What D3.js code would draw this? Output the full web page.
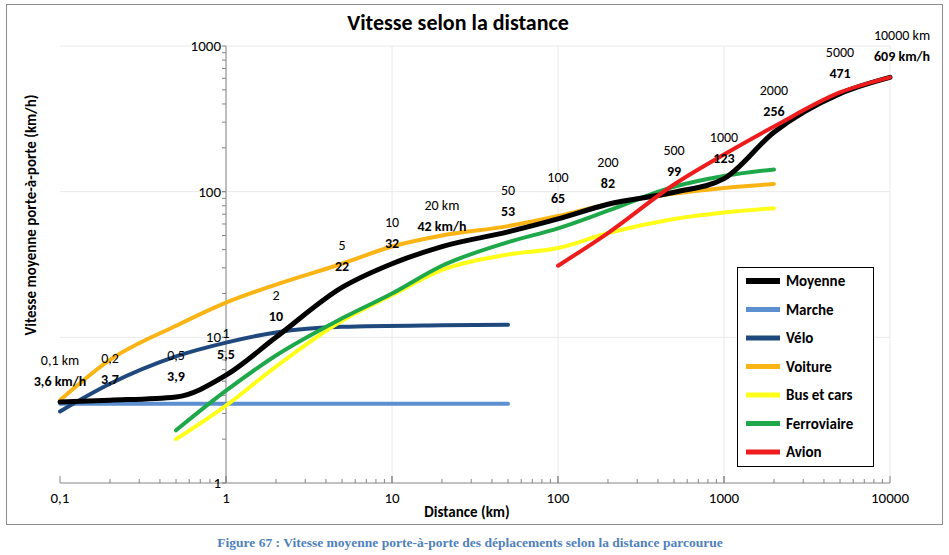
<!DOCTYPE html>
<html><head><meta charset="utf-8">
<script src="https://cdn.jsdelivr.net/npm/d3@7"></script>
<style>body{margin:0;background:#fff;font-family:Calibri,Carlito,"Open Sans",sans-serif}</style>
</head><body>
<script>
// Data
var moyDist = [0.1,0.2,0.5,1,2,5,10,20,50,100,200,500,1000,2000,5000,10000];
var moySpeed = [3.6,3.7,3.9,5.5,10,22,32,42,53,65,82,99,123,256,471,609];
var marche = [[0.1,3.5],[0.5,3.5],[5,3.5],[50,3.5]];
var velo = [[0.1,3.1],[0.2,4.8],[0.5,7.4],[1,9.2],[2,10.8],[5,11.8],[20,12.1],[50,12.2]];
var voiture = [[0.1,3.7],[0.2,7],[0.5,12],[1,17.3],[2,23],[5,32],[10,42],[20,50],[50,58],[100,68],[200,82],[500,97],[1000,106],[2000,113]];
var bus = [[0.5,2],[1,3.4],[2,6.3],[5,13],[10,19.5],[20,29],[50,37],[100,41],[200,52],[500,65],[1000,72],[2000,77]];
var ferro = [[0.5,2.3],[1,4.3],[2,7.5],[5,13.5],[10,20],[20,31],[50,45],[100,56],[200,74],[500,108],[1000,128],[2000,142]];
var avion = [[100,31],[200,52],[500,112],[1000,180],[2000,280],[5000,480],[10000,609]];
var distLabels = ["0,1 km","0,2","0,5","1","2","5","10","20 km","50","100","200","500","1000","2000","5000","10000 km"];
var speedLabels = ["3,6 km/h","3,7","3,9","5,5","10","22","32","42 km/h","53","65","82","99","123","256","471","609 km/h"];
var xTicks = [0.1,1,10,100,1000,10000];
var yTicks = [1,10,100,1000];

var series = [
  {name:"Moyenne", color:"#000000", w:5, pts:moyDist.map(function(d,i){return [d,moySpeed[i]];})},
  {name:"Marche", color:"#5b8fd0", w:4, pts:marche},
  {name:"Vélo", color:"#1f497d", w:4, pts:velo},
  {name:"Voiture", color:"#fbb416", w:4, pts:voiture},
  {name:"Bus et cars", color:"#ffff1a", w:4, pts:bus},
  {name:"Ferroviaire", color:"#1ea84a", w:4, pts:ferro},
  {name:"Avion", color:"#ee1c1c", w:4, pts:avion}
];
var drawOrder = [1,2,4,5,3,0,6];

var W = 949, H = 555;
var svg = d3.select("body").append("svg").attr("width", W).attr("height", H);
svg.append("rect").attr("x",6.5).attr("y",4.5).attr("width",936).attr("height",520)
  .attr("fill","#fff").attr("stroke","#8c8c8c");

var x = d3.scaleLog().domain([0.1,10000]).range([60,890]);
var y = d3.scaleLog().domain([1,1000]).range([483,46]);

// grid
svg.append("g").selectAll("line").data(xTicks.slice(1)).enter().append("line")
  .attr("x1",x).attr("x2",x).attr("y1",46).attr("y2",483).attr("stroke","#eaeaea");
svg.append("g").selectAll("line").data(yTicks.slice(1)).enter().append("line")
  .attr("x1",60).attr("x2",890).attr("y1",y).attr("y2",y).attr("stroke","#eaeaea");

// axes
var xMinor = [];
for (var e = 0.1; e < 10000; e *= 10) for (var k = 1; k <= 10; k++) xMinor.push(e*k);
svg.append("line").attr("x1",60).attr("x2",890).attr("y1",483).attr("y2",483).attr("stroke","#868686");
svg.append("g").selectAll("line").data(xMinor).enter().append("line")
  .attr("x1",x).attr("x2",x).attr("y1",483).attr("y2",function(d){return xTicks.indexOf(+d.toPrecision(3))>=0?476:479;})
  .attr("stroke","#868686");
svg.append("g").selectAll("text").data(xTicks).enter().append("text")
  .attr("x",x).attr("y",503).attr("text-anchor","middle").attr("font-size",15)
  .text(function(d){return String(d).replace(".",",");});

var yMinor = [];
for (var e2 = 1; e2 < 1000; e2 *= 10) for (var k2 = 1; k2 <= 10; k2++) yMinor.push(e2*k2);
svg.append("line").attr("x1",x(1)).attr("x2",x(1)).attr("y1",46).attr("y2",483).attr("stroke","#868686");
svg.append("g").selectAll("line").data(yMinor).enter().append("line")
  .attr("x1",x(1)-4).attr("x2",x(1)).attr("y1",y).attr("y2",y).attr("stroke","#868686");
svg.append("g").selectAll("text").data(yTicks).enter().append("text")
  .attr("x",x(1)-5).attr("y",function(d){return y(d)+5;}).attr("text-anchor","end").attr("font-size",15)
  .text(function(d){return d;});

// lines
var line = d3.line().x(function(d){return x(d[0]);}).y(function(d){return y(d[1]);}).curve(d3.curveMonotoneX);
drawOrder.forEach(function(i){
  var s = series[i];
  svg.append("path").attr("d", line(s.pts)).attr("fill","none")
    .attr("stroke", s.color).attr("stroke-width", s.w).attr("stroke-linecap","round");
});

// annotations
moyDist.forEach(function(d,i){
  var py = y(moySpeed[i]);
  svg.append("text").attr("x",x(d)+(i==15?12:0)).attr("y",py-37).attr("text-anchor","middle")
    .attr("font-size",14).text(distLabels[i]);
  svg.append("text").attr("x",x(d)+(i==15?12:0)).attr("y",py-16).attr("text-anchor","middle")
    .attr("font-size",14).attr("font-weight","bold").text(speedLabels[i]);
});

// legend
svg.append("rect").attr("x",737.5).attr("y",267.5).attr("width",136).attr("height",199)
  .attr("fill","#fff").attr("stroke","#000");
series.forEach(function(s,i){
  var ly = 281 + i*28.5;
  svg.append("line").attr("x1",746).attr("x2",780).attr("y1",ly).attr("y2",ly)
    .attr("stroke",s.color).attr("stroke-width",s.w+1);
  svg.append("text").attr("x",786).attr("y",ly+5).attr("font-size",15).attr("font-weight","600").text(s.name);
});

// titles
svg.append("text").attr("x",458).attr("y",30).attr("text-anchor","middle").attr("font-size",22)
  .attr("font-weight","bold").text("Vitesse selon la distance");
svg.append("text").attr("x",467).attr("y",517).attr("text-anchor","middle").attr("font-size",15)
  .attr("font-weight","bold").text("Distance (km)");
svg.append("text").attr("transform","translate(36,215) rotate(-90)").attr("text-anchor","middle")
  .attr("font-size",15).attr("font-weight","bold").text("Vitesse moyenne porte-à-porte (km/h)");
svg.append("text").attr("x",470).attr("y",547).attr("text-anchor","middle").attr("font-size",13.5)
  .attr("font-weight","bold").attr("fill","#4f81bd").attr("font-family","'Liberation Serif',serif")
  .text("Figure 67 : Vitesse moyenne porte-à-porte des déplacements selon la distance parcourue");
</script>
</body></html>
